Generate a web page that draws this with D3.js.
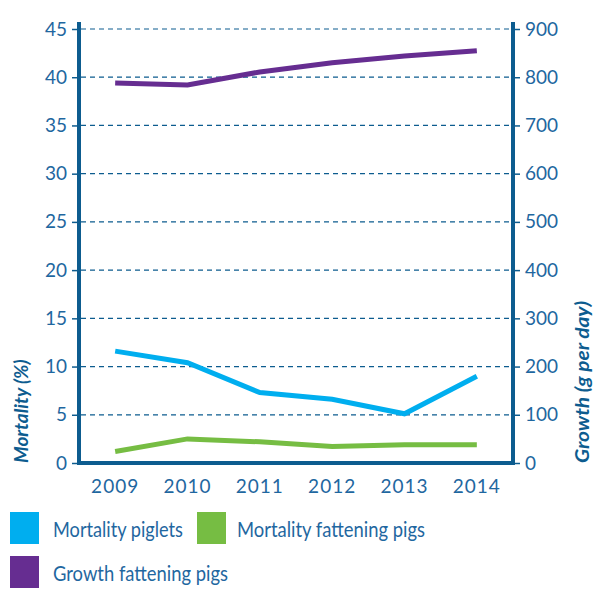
<!DOCTYPE html>
<html>
<head>
<meta charset="utf-8">
<script src="https://cdn.jsdelivr.net/npm/d3@7"></script>
<style>
body { margin: 0; background: #fff; }
text { font-family: Lato, "Open Sans", sans-serif; }
</style>
</head>
<body>
<div id="chart"></div>
<script>
var years = ["2009", "2010", "2011", "2012", "2013", "2014"]
var mortalityPiglets = [11.6, 10.4, 7.3, 6.6, 5.1, 9.0]
var mortalityFattening = [1.2, 2.5, 2.2, 1.7, 1.9, 1.9]
var growthFattening = [788, 784, 811, 830, 844, 855]
var leftTicks = [0, 5, 10, 15, 20, 25, 30, 35, 40, 45]
var rightTicks = [0, 100, 200, 300, 400, 500, 600, 700, 800, 900]

var W = 594, H = 589
var plotL = 79, plotR = 513, plotT = 29, plotB = 463
var axisColor = "#0d5c8f", textColor = "#1f67a0"

var svg = d3.select("#chart").append("svg").attr("width", W).attr("height", H)

var x = d3.scalePoint().domain(years).range([plotL, plotR]).padding(0.5)
var yL = d3.scaleLinear().domain([0, 45]).range([plotB, plotT])
var yR = d3.scaleLinear().domain([0, 900]).range([plotB, plotT])

// dashed grid
svg.selectAll(".grid").data(leftTicks.filter(function(d){ return d > 0 }))
    .enter().append("line")
    .attr("x1", plotL + 2).attr("x2", plotR - 2)
    .attr("y1", function(d){ return yL(d) }).attr("y2", function(d){ return yL(d) })
    .attr("stroke", axisColor).attr("stroke-width", 1.2).attr("stroke-dasharray", "5,4")

// left axis
var gl = svg.append("g").attr("transform", "translate(" + plotL + ",0)")
    .call(d3.axisLeft(yL).tickValues(leftTicks).tickSize(7).tickPadding(5))
gl.select(".domain").remove()
gl.selectAll(".tick line").attr("stroke", axisColor).attr("stroke-width", 1.5)
gl.selectAll(".tick text").attr("fill", textColor).style("font-size", "19px")

// right axis
var gr = svg.append("g").attr("transform", "translate(" + plotR + ",0)")
    .call(d3.axisRight(yR).tickValues(rightTicks).tickSize(7).tickPadding(5))
gr.select(".domain").remove()
gr.selectAll(".tick line").attr("stroke", axisColor).attr("stroke-width", 1.5)
gr.selectAll(".tick text").attr("fill", textColor).style("font-size", "19px")

// frame lines
svg.append("line").attr("x1", plotL).attr("x2", plotL).attr("y1", 22).attr("y2", plotB + 2)
    .attr("stroke", axisColor).attr("stroke-width", 4)
svg.append("line").attr("x1", plotR).attr("x2", plotR).attr("y1", 22).attr("y2", plotB + 2)
    .attr("stroke", axisColor).attr("stroke-width", 4)
svg.append("line").attr("x1", plotL - 2).attr("x2", plotR + 2).attr("y1", plotB).attr("y2", plotB)
    .attr("stroke", axisColor).attr("stroke-width", 4)

// x labels
svg.selectAll(".xl").data(years).enter().append("text")
    .attr("x", function(d){ return x(d) }).attr("y", plotB + 30)
    .attr("text-anchor", "middle").attr("fill", textColor).style("font-size", "19px")
    .style("letter-spacing", "1px")
    .text(function(d){ return d })

// axis titles
svg.append("text").attr("transform", "translate(28," + plotB + ") rotate(-90)")
    .attr("fill", axisColor).style("font-size", "19px").style("font-weight", "bold").style("font-style", "italic")
    .text("Mortality (%)")
svg.append("text").attr("transform", "translate(589," + plotB + ") rotate(-90)")
    .attr("fill", axisColor).style("font-size", "19px").style("font-weight", "bold").style("font-style", "italic")
    .attr("textLength", 162).attr("lengthAdjust", "spacingAndGlyphs")
    .text("Growth (g per day)")

// series lines
var lineL = d3.line().x(function(d, i){ return x(years[i]) }).y(function(d){ return yL(d) })
var lineR = d3.line().x(function(d, i){ return x(years[i]) }).y(function(d){ return yR(d) })
svg.append("path").datum(growthFattening).attr("d", lineR)
    .attr("fill", "none").attr("stroke", "#662d91").attr("stroke-width", 5)
svg.append("path").datum(mortalityPiglets).attr("d", lineL)
    .attr("fill", "none").attr("stroke", "#00aeef").attr("stroke-width", 5)
svg.append("path").datum(mortalityFattening).attr("d", lineL)
    .attr("fill", "none").attr("stroke", "#76bd43").attr("stroke-width", 5)

// legend
var legend = [
    {name: "Mortality piglets", color: "#00aeef", x: 10, y: 512, w: 130},
    {name: "Mortality fattening pigs", color: "#76bd43", x: 197, y: 512, w: 188},
    {name: "Growth fattening pigs", color: "#662d91", x: 10, y: 556, w: 175}
]
var lg = svg.selectAll(".leg").data(legend).enter().append("g")
    .attr("transform", function(d){ return "translate(" + d.x + "," + d.y + ")" })
lg.append("rect").attr("width", 29).attr("height", 32).attr("fill", function(d){ return d.color })
lg.append("text").attr("x", function(d){ return d.x < 100 ? 43 : 40 }).attr("y", 25)
    .attr("fill", textColor).style("font-size", "21px")
    .attr("textLength", function(d){ return d.w }).attr("lengthAdjust", "spacingAndGlyphs")
    .text(function(d){ return d.name })
</script>
</body>
</html>
